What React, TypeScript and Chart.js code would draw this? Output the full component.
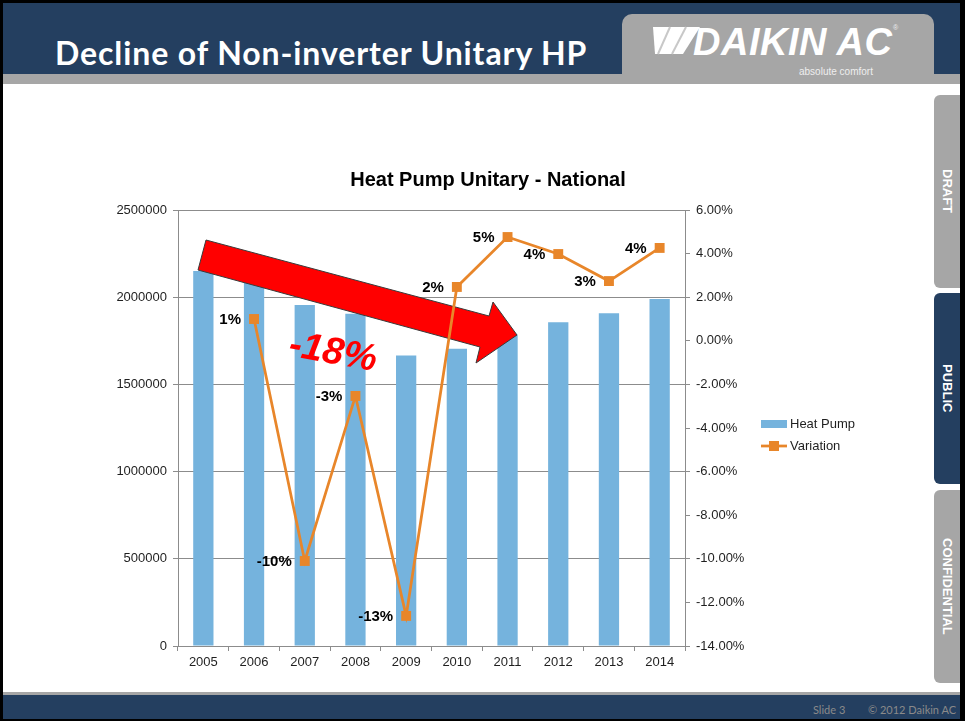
import { useEffect, useRef } from 'react';
import { Chart, registerables } from 'chart.js';

Chart.register(...registerables);

// ---------- data ----------
const years = ['2005', '2006', '2007', '2008', '2009', '2010', '2011', '2012', '2013', '2014'];
const heatPumpUnits = [2150000, 2170000, 1955000, 1905000, 1665000, 1705000, 1785000, 1857000, 1908000, 1989000];
const variationPct = [null, 1.0, -10.1, -2.53, -12.62, 2.47, 4.76, 3.98, 2.74, 4.26];
const variationLabels = ['', '1%', '-10%', '-3%', '-13%', '2%', '5%', '4%', '3%', '4%'];
const unitsAxis = { min: 0, max: 2500000, step: 500000 };
const pctAxis = { min: -14, max: 6, step: 2 };
const seriesNames = ['Heat Pump', 'Variation'];
const chartTitle = 'Heat Pump Unitary - National';
const declineLabel = '-18%';
const slideTitle = 'Decline of Non-inverter Unitary HP';
const tabs = ['DRAFT', 'PUBLIC', 'CONFIDENTIAL'];

// ---------- styles ----------
const FONT = 'Arial, "Liberation Sans", sans-serif';
const BAR_COLOR = '#75B3DD';
const LINE_COLOR = '#E8862A';
const GRID = '#8C8C8C';
const TEXT = '#1F1F1F';
const NAVY = '#243F60';
const GRAY = '#A6A6A6';

const overlayPlugin = {
  id: 'overlay',
  afterDatasetDraw(chart: any, args: any) {
    if (args.index !== 0) return;
    const ctx = chart.ctx as CanvasRenderingContext2D;
    const a = chart.chartArea;
    // big red annotation arrow (canvas coords relative to chart area)
    const ox = a.left;
    const oy = a.top;
    const pts: [number, number][] = [
      [28, 30], [311, 106], [315, 92], [339, 125], [298, 153], [302, 137], [20, 60],
    ];
    ctx.save();
    ctx.beginPath();
    pts.forEach(([x, y], i) => (i === 0 ? ctx.moveTo(ox + x, oy + y) : ctx.lineTo(ox + x, oy + y)));
    ctx.closePath();
    ctx.fillStyle = '#FF0000';
    ctx.fill();
    ctx.strokeStyle = '#3A3A3A';
    ctx.lineWidth = 1;
    ctx.stroke();
    // -18% label
    ctx.translate(ox + 155, oy + 143);
    ctx.rotate((10 * Math.PI) / 180);
    ctx.font = `italic bold 38px ${FONT}`;
    ctx.fillStyle = '#FF0000';
    ctx.textAlign = 'center';
    ctx.textBaseline = 'middle';
    ctx.fillText(declineLabel, 0, 0);
    ctx.restore();
  },
  afterDatasetsDraw(chart: any) {
    const ctx = chart.ctx as CanvasRenderingContext2D;
    const meta = chart.getDatasetMeta(1);
    ctx.save();
    ctx.font = `bold 15px ${FONT}`;
    ctx.fillStyle = '#000';
    ctx.textAlign = 'right';
    ctx.textBaseline = 'middle';
    meta.data.forEach((pt: any, i: number) => {
      if (variationPct[i] === null) return;
      ctx.fillText(variationLabels[i], pt.x - 13, pt.y + 1);
    });
    ctx.restore();
  },
  afterDraw(chart: any) {
    const ctx = chart.ctx as CanvasRenderingContext2D;
    const a = chart.chartArea;
    ctx.save();
    // title
    ctx.font = `bold 20px ${FONT}`;
    ctx.fillStyle = '#000';
    ctx.textAlign = 'center';
    ctx.textBaseline = 'middle';
    ctx.fillText(chartTitle, a.left + 310, a.top - 30);
    // legend
    const lx = a.right + 76;
    const ly = a.top + 214;
    ctx.fillStyle = BAR_COLOR;
    ctx.fillRect(lx, ly - 4, 26, 8);
    ctx.font = `13px ${FONT}`;
    ctx.fillStyle = TEXT;
    ctx.textAlign = 'left';
    ctx.fillText(seriesNames[0], lx + 29, ly);
    const ly2 = ly + 22;
    ctx.strokeStyle = LINE_COLOR;
    ctx.lineWidth = 2.75;
    ctx.beginPath();
    ctx.moveTo(lx, ly2);
    ctx.lineTo(lx + 26, ly2);
    ctx.stroke();
    ctx.fillStyle = LINE_COLOR;
    ctx.fillRect(lx + 13 - 5, ly2 - 5, 10, 10);
    ctx.fillStyle = TEXT;
    ctx.fillText(seriesNames[1], lx + 29, ly2);
    ctx.restore();
  },
};

export default function App() {
  const ref = useRef<HTMLCanvasElement>(null);

  useEffect(() => {
    const canvas = ref.current!;
    const chart = new Chart(canvas, {
      type: 'bar',
      data: {
        labels: years,
        datasets: [
          {
            type: 'bar',
            label: seriesNames[0],
            data: heatPumpUnits,
            backgroundColor: BAR_COLOR,
            yAxisID: 'y',
            barPercentage: 0.4,
            categoryPercentage: 1,
            order: 2,
          } as any,
          {
            type: 'line',
            label: seriesNames[1],
            data: variationPct,
            borderColor: LINE_COLOR,
            backgroundColor: LINE_COLOR,
            borderWidth: 2.75,
            pointStyle: 'rect',
            pointRadius: 7,
            pointBorderWidth: 0,
            pointBackgroundColor: LINE_COLOR,
            yAxisID: 'y1',
            order: 1,
            tension: 0,
            spanGaps: false,
          } as any,
        ],
      },
      options: {
        animation: false,
        responsive: false,
        devicePixelRatio: 1,
        layout: { padding: { top: 60, left: 0, right: 0, bottom: 0 } },
        plugins: {
          legend: { display: false },
          title: { display: false },
          tooltip: { enabled: false },
        },
        scales: {
          x: {
            grid: { offset: true, drawOnChartArea: false, drawTicks: true, tickLength: 5, color: GRID },
            border: { color: GRID },
            ticks: { font: { family: FONT, size: 13 }, color: TEXT, padding: 4, maxRotation: 0 },
            afterFit: (s: any) => { s.height = 44; },
          },
          y: {
            position: 'left',
            min: unitsAxis.min,
            max: unitsAxis.max,
            grid: { color: GRID, tickLength: 5 },
            border: { color: GRID },
            ticks: {
              stepSize: unitsAxis.step,
              font: { family: FONT, size: 13 },
              color: TEXT,
              padding: 6,
              callback: (v: any) => String(v),
            },
            afterFit: (s: any) => { s.width = 78; },
          },
          y1: {
            position: 'right',
            min: pctAxis.min,
            max: pctAxis.max,
            grid: { drawOnChartArea: false, color: GRID, tickLength: 5 },
            border: { color: GRID },
            ticks: {
              stepSize: pctAxis.step,
              font: { family: FONT, size: 13 },
              color: TEXT,
              padding: 6,
              callback: (v: any) => Number(v).toFixed(2) + '%',
            },
            afterFit: (s: any) => { s.width = 215; },
          },
        },
      },
      plugins: [overlayPlugin],
    });
    return () => chart.destroy();
  }, []);

  const tabBoxes = [
    { top: 95, height: 193, bg: GRAY },
    { top: 293, height: 191, bg: NAVY },
    { top: 490, height: 193, bg: GRAY },
  ];

  return (
    <div style={{ position: 'fixed', left: 0, top: 0, width: 965, height: 721, background: '#000', overflow: 'hidden' }}>
      <div style={{ position: 'absolute', left: 3, top: 3, width: 957, height: 716, background: '#fff' }} />
      {/* header */}
      <div style={{ position: 'absolute', left: 3, top: 3, width: 957, height: 71, background: NAVY }} />
      <div style={{ position: 'absolute', left: 3, top: 74, width: 957, height: 10, background: GRAY }} />
      <div
        style={{
          position: 'absolute', left: 55, top: 37, color: '#fff', font: '700 32px Lato, "Open Sans", sans-serif',
          lineHeight: '32px', whiteSpace: 'nowrap', letterSpacing: '0.9px',
        }}
      >
        {slideTitle}
      </div>
      {/* logo tab */}
      <div style={{ position: 'absolute', left: 622, top: 14, width: 312, height: 70, background: GRAY, borderRadius: '10px 10px 0 0' }} />
      <svg style={{ position: 'absolute', left: 650, top: 25, width: 55, height: 32 }} viewBox="0 0 55 32">
        <polygon points="3,2 50,2 33,29 5,29" fill="#fff" />
        <line x1="20" y1="2" x2="8" y2="29" stroke="#C8C8C8" strokeWidth="2" />
        <line x1="36" y1="2" x2="22" y2="29" stroke="#C8C8C8" strokeWidth="2" />
      </svg>
      <div
        style={{
          position: 'absolute', left: 693, top: 23, color: '#fff', font: 'italic 900 38px Arial, "Liberation Sans", sans-serif',
          lineHeight: '38px', whiteSpace: 'nowrap', letterSpacing: '0.5px',
        }}
      >
        DAIKIN AC
      </div>
      <div style={{ position: 'absolute', left: 893, top: 24, color: '#eee', font: '7px Arial, sans-serif' }}>®</div>
      <div style={{ position: 'absolute', left: 799, top: 66, color: '#eee', font: '10px Arial, "Liberation Sans", sans-serif', whiteSpace: 'nowrap' }}>
        absolute comfort
      </div>
      {/* side tabs */}
      {tabBoxes.map((t, i) => (
        <div
          key={tabs[i]}
          style={{
            position: 'absolute', left: 934, top: t.top, width: 26, height: t.height, background: t.bg,
            borderRadius: '6px 0 0 6px', display: 'flex', alignItems: 'center', justifyContent: 'center',
          }}
        >
          <span style={{ writingMode: 'vertical-rl', color: '#FFFFFF', font: `bold 13px ${FONT}` }}>{tabs[i]}</span>
        </div>
      ))}
      {/* footer */}
      <div style={{ position: 'absolute', left: 3, top: 692, width: 957, height: 3, background: GRAY }} />
      <div style={{ position: 'absolute', left: 3, top: 695, width: 957, height: 24, background: NAVY }} />
      <div style={{ position: 'absolute', left: 813, top: 703, color: '#8A8A8A', font: '11px Lato, "Open Sans", sans-serif', whiteSpace: 'nowrap' }}>Slide 3</div>
      <div style={{ position: 'absolute', left: 868, top: 703, color: '#8A8A8A', font: '11px Lato, "Open Sans", sans-serif', whiteSpace: 'nowrap' }}>© 2012 Daikin AC</div>
      {/* chart */}
      <canvas ref={ref} width={800} height={540} style={{ position: 'absolute', left: 100, top: 150, width: 800, height: 540 }} />
    </div>
  );
}
